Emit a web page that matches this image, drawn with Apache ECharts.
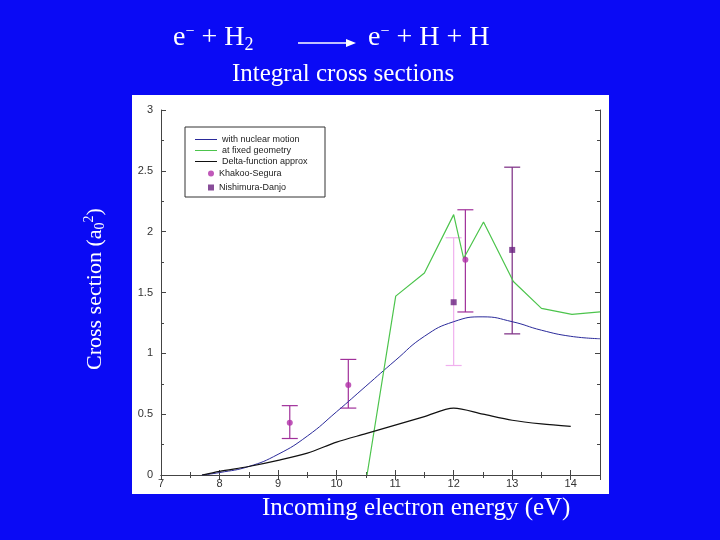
<!DOCTYPE html>
<html>
<head>
<meta charset="utf-8">
<script src="https://cdn.jsdelivr.net/npm/echarts@6/dist/echarts.min.js"></script>
<style>
  html, body { margin: 0; padding: 0; background: #0a0af5; }
  #main { width: 720px; height: 540px; }
</style>
</head>
<body>
<div id="main"></div>
<script>
// curves: [energy eV, cross section a0^2]
const nuclearMotion = [[7.7, 0], [8, 0.02], [8.5, 0.07], [9, 0.17], [9.5, 0.32], [10, 0.52], [10.5, 0.73],
  [11, 0.94], [11.5, 1.14], [12, 1.26], [12.5, 1.3], [13, 1.26], [13.5, 1.19], [14, 1.14], [14.5, 1.12]];
const fixedGeometry = [[10.52, 0], [11.01, 1.47], [11.5, 1.66], [12.0, 2.14], [12.17, 1.78], [12.51, 2.08],
  [13.02, 1.59], [13.5, 1.37], [14.02, 1.32], [14.5, 1.34]];
const deltaApprox = [[7.7, 0], [8, 0.03], [8.5, 0.07], [9, 0.12], [9.5, 0.18], [10, 0.27], [10.5, 0.34],
  [11, 0.41], [11.5, 0.48], [12, 0.55], [12.5, 0.5], [13, 0.45], [13.5, 0.42], [14, 0.4]];
// [x, y, low, high]
const khakoo = [[9.2, 0.43, 0.30, 0.57], [10.2, 0.74, 0.55, 0.95], [12.2, 1.77, 1.34, 2.18]];
const nishimura = [[12.0, 1.42, 0.90, 1.95], [13.0, 1.85, 1.16, 2.53]];

const chart = echarts.init(document.getElementById("main"));

function errorBars(colors) {
  return function (params, api) {
    const x = api.value(0);
    const lo = api.coord([x, api.value(2)]);
    const hi = api.coord([x, api.value(3)]);
    const w = 8;
    const c = colors[params.dataIndex] || colors[0];
    const style = { stroke: c, lineWidth: 1.2 };
    return {
      type: "group",
      children: [
        { type: "line", shape: { x1: lo[0], y1: lo[1], x2: hi[0], y2: hi[1] }, style: style },
        { type: "line", shape: { x1: lo[0] - w, y1: lo[1], x2: lo[0] + w, y2: lo[1] }, style: style },
        { type: "line", shape: { x1: hi[0] - w, y1: hi[1], x2: hi[0] + w, y2: hi[1] }, style: style },
      ],
    };
  };
}

const axisLine = { lineStyle: { color: "#444", width: 1 } };
const tickIn = { inside: true, length: 5, lineStyle: { color: "#444" } };
const minorIn = { show: true, splitNumber: 2, length: 3, lineStyle: { color: "#444" } };
const serif = "Liberation Serif, Times New Roman, serif";
const legendText = { fontSize: 9, fontFamily: "Liberation Sans, Arial", color: "#222" };

const option = {
  backgroundColor: "#0a0af5",
  animation: false,
  grid: { left: 161, right: 120, top: 110, bottom: 65 },
  graphic: [
    { type: "rect", z: -10, shape: { x: 132, y: 95, width: 477, height: 399 }, style: { fill: "#fff" } },
    { type: "text", left: 173, top: 24, style: {
      rich: { n: { fontSize: 28, fontFamily: serif, fill: "#fff" }, s: { fontSize: 16, fontFamily: serif, fill: "#fff", padding: [0, 0, 12, 0] }, b: { fontSize: 18, fontFamily: serif, fill: "#fff", padding: [14, 0, 0, 0] } },
      text: "{n|e}{s|−}{n| + H}{b|2}" } },
    { type: "line", shape: { x1: 298, y1: 43, x2: 350, y2: 43 }, style: { stroke: "#fff", lineWidth: 1.5 } },
    { type: "polygon", shape: { points: [[356, 43], [346, 39], [346, 47]] }, style: { fill: "#fff" } },
    { type: "text", left: 368, top: 24, style: {
      rich: { n: { fontSize: 28, fontFamily: serif, fill: "#fff" }, s: { fontSize: 16, fontFamily: serif, fill: "#fff", padding: [0, 0, 12, 0] } },
      text: "{n|e}{s|−}{n| + H + H}" } },
    { type: "text", left: 232, top: 62, style: { text: "Integral cross sections", fontSize: 25, fontFamily: serif, fill: "#fff" } },
    { type: "text", x: 82, y: 370, rotation: Math.PI / 2, style: {
      rich: { n: { fontSize: 22, fontFamily: serif, fill: "#fff" },
        b: { fontSize: 14, fontFamily: serif, fill: "#fff", padding: [10, 0, 0, 0] },
        s: { fontSize: 14, fontFamily: serif, fill: "#fff", padding: [0, 0, 12, 0] } },
      text: "{n|Cross section (a}{b|0}{s|2}{n|)}" } },
    { type: "text", left: 262, top: 496, style: { text: "Incoming electron energy (eV)", fontSize: 25, fontFamily: serif, fill: "#fff" } },
    { type: "rect", shape: { x: 185, y: 127, width: 140, height: 70 }, style: { fill: "none", stroke: "#333", lineWidth: 1 } },
  ],
  legend: [
    {
      left: 190, top: 130, orient: "vertical", itemGap: 2, itemWidth: 22, itemHeight: 9, textStyle: legendText,
      data: ["with nuclear motion", "at fixed geometry", "Delta-function approx"].map((n) => ({ name: n, icon: "path://M0,5L22,5L22,6L0,6Z" })),
    },
    {
      left: 203, top: 164, orient: "vertical", itemGap: 5, itemWidth: 6, itemHeight: 6, textStyle: legendText,
      data: [{ name: "Khakoo-Segura", icon: "circle" }, { name: "Nishimura-Danjo", icon: "rect" }],
    },
  ],
  xAxis: [
    { type: "value", min: 7, max: 14.5, interval: 1, axisLine: axisLine, axisTick: tickIn, minorTick: minorIn,
      splitLine: { show: false }, axisLabel: { color: "#333", fontSize: 11, fontFamily: "Liberation Sans, Arial", margin: 3,
        formatter: (v) => (v % 1 === 0 ? v : "") } },
    { type: "value", position: "top", min: 7, max: 14.5, interval: 1, axisLine: axisLine, axisTick: tickIn,
      minorTick: minorIn, splitLine: { show: false }, axisLabel: { show: false } },
  ],
  yAxis: [
    { type: "value", min: 0, max: 3, interval: 0.5, axisLine: { show: true, lineStyle: axisLine.lineStyle }, axisTick: tickIn,
      minorTick: minorIn, splitLine: { show: false },
      axisLabel: { color: "#333", fontSize: 11, fontFamily: "Liberation Sans, Arial", margin: 8 } },
    { type: "value", position: "right", min: 0, max: 3, interval: 0.5, axisLine: { show: true, lineStyle: axisLine.lineStyle },
      axisTick: tickIn, minorTick: minorIn, splitLine: { show: false }, axisLabel: { show: false } },
  ],
  series: [
    { name: "with nuclear motion", type: "line", data: nuclearMotion, smooth: true, showSymbol: false,
      color: "#2a2a9a", lineStyle: { width: 1 } },
    { name: "at fixed geometry", type: "line", data: fixedGeometry, showSymbol: false,
      color: "#4cc44c", lineStyle: { width: 1.2 } },
    { name: "Delta-function approx", type: "line", data: deltaApprox, smooth: 0.3, showSymbol: false,
      color: "#111", lineStyle: { width: 1.2 } },
    { name: "Khakoo-Segura bars", type: "custom", renderItem: errorBars(["#a0309a"]), data: khakoo, z: 3 },
    { name: "Khakoo-Segura", type: "scatter", data: khakoo, symbol: "circle", symbolSize: 6, color: "#b030a8", z: 4 },
    { name: "Nishimura-Danjo bars", type: "custom", renderItem: errorBars(["#f0b0ee", "#7a2a82"]), data: nishimura, z: 3 },
    { name: "Nishimura-Danjo", type: "scatter", data: nishimura, symbol: "rect", symbolSize: 6, color: "#6a2080", z: 4 },
  ],
};

chart.setOption(option);
</script>
</body>
</html>
